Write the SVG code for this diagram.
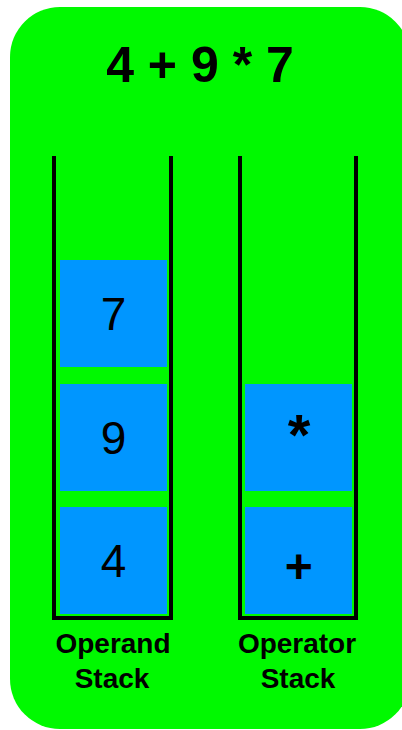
<svg xmlns="http://www.w3.org/2000/svg" width="402" height="730" viewBox="0 0 402 730">
<style>
.bg{fill:#00f900}
.wall{fill:none;stroke:#000;stroke-width:4;stroke-linecap:square}
.blk{fill:#0096ff}
.t{font-family:"Liberation Sans",Arial,sans-serif;fill:#000;text-anchor:middle}
.title{font-size:50px;font-weight:bold}
.num{font-size:46px}
.op{font-weight:bold}
.lbl{font-size:28px;font-weight:bold}
</style>
<rect class="bg" x="10" y="7" width="400" height="722" rx="50" ry="50"/>
<g id="title"><text class="t title" x="200" y="82">4 + 9 * 7</text></g>
<g id="operand-stack">
<path class="wall" d="M54,158 V618 H171 V158"/>
<text class="t lbl" x="113" y="653">Operand</text>
<text class="t lbl" x="112" y="688">Stack</text>
</g>
<g id="operator-stack">
<path class="wall" d="M240,158 V618 H356 V158"/>
<text class="t lbl" x="297" y="653">Operator</text>
<text class="t lbl" x="298" y="688">Stack</text>
</g>
<g id="block-7"><rect class="blk" x="60" y="260" width="107" height="107"/><text class="t num" x="113.5" y="330">7</text></g>
<g id="block-9"><rect class="blk" x="60" y="384" width="107" height="107"/><text class="t num" x="113.5" y="454">9</text></g>
<g id="block-4"><rect class="blk" x="60" y="507" width="107" height="107"/><text class="t num" x="113.5" y="577">4</text></g>
<g id="block-mul"><rect class="blk" x="245" y="384" width="107" height="107"/><text class="t op" x="299" y="455" font-size="58">*</text></g>
<g id="block-add"><rect class="blk" x="245" y="507" width="107" height="107"/><text class="t op" x="298.7" y="583" font-size="48">+</text></g>
<g id="connectors"/>
</svg>
